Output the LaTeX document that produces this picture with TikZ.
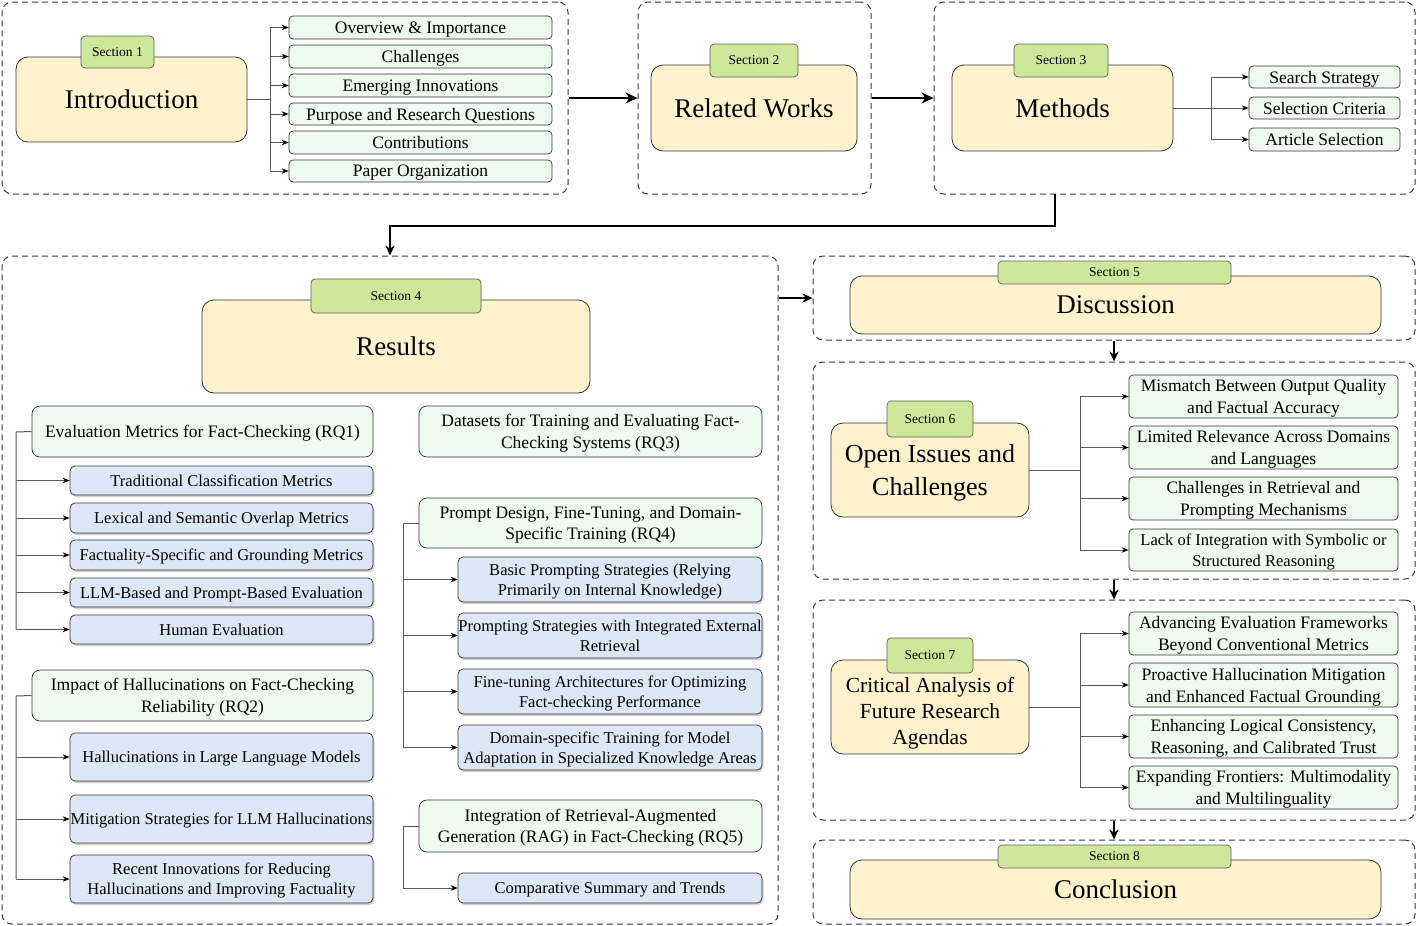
\documentclass[tikz,border=0pt]{standalone}
\usepackage{fontspec}
\setmainfont{Liberation Serif}
\usetikzlibrary{arrows.meta,shadows,calc}
\definecolor{tagG}{HTML}{CDE89B}
\definecolor{yel}{HTML}{FFF2CC}
\definecolor{mint}{HTML}{EEF9F0}
\definecolor{blu}{HTML}{DCE8F6}
\definecolor{edgec}{HTML}{333333}
\definecolor{dashc}{HTML}{3A3A3A}
\newcommand\bx[7]{\node[#1, minimum width={#5-#3}, minimum height={#6-#4}] (#2) at ({(#3+#5)/2},{(#4+#6)/2}) {#7};}
\tikzset{
  grp/.style={draw=dashc, dash pattern=on 6pt off 4pt, rounded corners=10pt, line width=1pt, inner sep=0pt},
  mainbox/.style={draw=edgec, fill=yel, rounded corners=12pt, line width=0.8pt, inner sep=0pt, align=center, text depth=0pt, font=\fontsize{27}{33}\selectfont},
  tagbox/.style={draw=edgec!80, fill=tagG, rounded corners=4pt, line width=0.7pt, inner sep=0pt, text depth=0pt, font=\fontsize{13.5}{16}\selectfont},
  itembox/.style={draw=edgec, fill=mint, rounded corners=4pt, line width=0.7pt, inner sep=0pt, align=center, text depth=0pt, font=\fontsize{17.5}{22}\selectfont},
  rqbox/.style={draw=edgec, fill=mint, rounded corners=8pt, line width=0.7pt, inner sep=0pt, align=center, text depth=0pt, font=\fontsize{17.5}{21.5}\selectfont},
  subbox/.style={draw=edgec, fill=blu, rounded corners=5pt, line width=0.7pt, inner sep=0pt, align=center, text depth=0pt, font=\fontsize{16.5}{20}\selectfont,
    drop shadow={shadow xshift=1.5pt, shadow yshift=-2pt, fill=black!35, opacity=0.5}},
  ln/.style={draw=black!65, line width=1pt},
  arr/.style={draw=black!65, line width=1pt, -{Stealth[length=7pt,width=5.5pt,black]}},
  bigarr/.style={draw=black, line width=2.6pt, -{Stealth[length=12pt,width=11pt]}},
  midarr/.style={draw=black, line width=1.8pt, -{Stealth[length=10pt,width=9pt]}},
}
\begin{document}
\begin{tikzpicture}[x=1pt,y=-1pt]
\useasboundingbox (0,0) rectangle (1417,926);
% groups
\bx{grp}{g1}{2}{2}{568}{194}{}
\bx{grp}{g2}{638}{2}{871}{194}{}
\bx{grp}{g3}{934}{2}{1415}{194}{}
\bx{grp}{g4}{2}{256}{778}{924}{}
\bx{grp}{g5}{813}{256}{1415}{340}{}
\bx{grp}{g6}{813}{362}{1415}{579}{}
\bx{grp}{g7}{813}{600}{1415}{820}{}
\bx{grp}{g8}{813}{840}{1415}{924}{}
% main boxes
\bx{mainbox}{intro}{16}{57}{247}{142}{Introduction}
\bx{mainbox}{rel}{651}{65}{857}{151}{Related Works}
\bx{mainbox}{meth}{952}{65}{1173}{151}{Methods}
\bx{mainbox}{res}{202}{300}{590}{393}{Results}
\bx{mainbox}{disc}{850}{276}{1381}{334}{Discussion}
\bx{mainbox,font=\fontsize{26}{33}\selectfont}{open}{831}{423}{1029}{517}{Open Issues and\\Challenges}
\bx{mainbox,font=\fontsize{21.5}{26}\selectfont,text depth={}}{crit}{831}{660}{1029}{754}{\raisebox{-6pt}[\height][\depth]{\begin{tabular}{@{}c@{}}Critical Analysis of\\Future Research\\Agendas\end{tabular}}}
\bx{mainbox}{conc}{850}{860}{1381}{919}{Conclusion}
% tags
\bx{tagbox}{t1}{81}{36}{154}{68}{Section 1}
\bx{tagbox}{t2}{710}{44}{798}{77}{Section 2}
\bx{tagbox}{t3}{1014}{44}{1108}{77}{Section 3}
\bx{tagbox}{t4}{311}{279}{481}{313}{Section 4}
\bx{tagbox}{t5}{998}{261}{1231}{284}{Section 5}
\bx{tagbox}{t6}{887}{401}{973}{437}{Section 6}
\bx{tagbox}{t7}{887}{638}{973}{673}{Section 7}
\bx{tagbox}{t8}{998}{845}{1231}{868}{Section 8}
% section 1 items
\bx{itembox}{a1}{289}{16}{552}{39}{Overview \& Importance}
\bx{itembox}{a2}{289}{45}{552}{68}{Challenges}
\bx{itembox}{a3}{289}{74}{552}{97}{Emerging Innovations}
\bx{itembox}{a4}{289}{103}{552}{125}{Purpose and Research Questions}
\bx{itembox}{a5}{289}{131}{552}{154}{Contributions}
\bx{itembox}{a6}{289}{160}{552}{182}{Paper Organization}
% section 3 items
\bx{itembox}{m1}{1249}{66}{1400}{88}{Search Strategy}
\bx{itembox}{m2}{1249}{97}{1400}{119}{Selection Criteria}
\bx{itembox}{m3}{1249}{128}{1400}{151}{Article Selection}
% results
\bx{rqbox}{q1}{32}{406}{373}{457}{Evaluation Metrics for Fact-Checking (RQ1)}
\bx{subbox}{q11}{70}{466}{373}{495}{Traditional Classification Metrics}
\bx{subbox}{q12}{70}{503}{373}{533}{Lexical and Semantic Overlap Metrics}
\bx{subbox}{q13}{70}{540}{373}{570}{Factuality-Specific and Grounding Metrics}
\bx{subbox}{q14}{70}{578}{373}{607}{LLM-Based and Prompt-Based Evaluation}
\bx{subbox}{q15}{70}{615}{373}{644}{Human Evaluation}
\bx{rqbox}{q2}{32}{670}{373}{721}{Impact of Hallucinations on Fact-Checking\\Reliability (RQ2)}
\bx{subbox}{q21}{70}{733}{373}{781}{Hallucinations in Large Language Models}
\bx{subbox}{q22}{70}{795}{373}{843}{Mitigation Strategies for LLM Hallucinations}
\bx{subbox}{q23}{70}{855}{373}{903}{Recent Innovations for Reducing\\Hallucinations and Improving Factuality}
\bx{rqbox}{q3}{419}{406}{762}{457}{Datasets for Training and Evaluating Fact-\\Checking Systems (RQ3)}
\bx{rqbox}{q4}{419}{498}{762}{548}{Prompt Design, Fine-Tuning, and Domain-\\Specific Training (RQ4)}
\bx{subbox}{q41}{458}{557}{762}{602}{Basic Prompting Strategies (Relying\\Primarily on Internal Knowledge)}
\bx{subbox}{q42}{458}{613}{762}{658}{Prompting Strategies with Integrated External\\Retrieval}
\bx{subbox}{q43}{458}{669}{762}{714}{Fine-tuning Architectures for Optimizing\\Fact-checking Performance}
\bx{subbox}{q44}{458}{725}{762}{770}{Domain-specific Training for Model\\Adaptation in Specialized Knowledge Areas}
\bx{rqbox}{q5}{419}{800}{762}{852}{Integration of Retrieval-Augmented\\Generation (RAG) in Fact-Checking (RQ5)}
\bx{subbox}{q51}{458}{873}{762}{903}{Comparative Summary and Trends}
% section 6 items
\bx{itembox}{o1}{1129}{375}{1398}{418}{Mismatch Between Output Quality\\and Factual Accuracy}
\bx{itembox}{o2}{1129}{426}{1398}{469}{Limited Relevance Across Domains\\and Languages}
\bx{itembox}{o3}{1129}{477}{1398}{520}{Challenges in Retrieval and\\Prompting Mechanisms}
\bx{itembox,font=\fontsize{16.5}{21}\selectfont}{o4}{1129}{529}{1398}{571}{Lack of Integration with Symbolic or\\Structured Reasoning}
% section 7 items
\bx{itembox}{c1}{1129}{612}{1398}{655}{Advancing Evaluation Frameworks\\Beyond Conventional Metrics}
\bx{itembox}{c2}{1129}{663}{1398}{707}{Proactive Hallucination Mitigation\\and Enhanced Factual Grounding}
\bx{itembox}{c3}{1129}{715}{1398}{758}{Enhancing Logical Consistency,\\Reasoning, and Calibrated Trust}
\bx{itembox}{c4}{1129}{766}{1398}{809}{Expanding Frontiers: Multimodality\\and Multilinguality}
% bar coordinates
\coordinate (b1) at (270,99);
\coordinate (b3) at (1211,108);
\coordinate (bq1) at (16,432);
\coordinate (bq2) at (16,696);
\coordinate (bq4) at (403,523);
\coordinate (bq5) at (403,826);
\coordinate (b6) at (1080,470);
\coordinate (b7) at (1080,707);
% section 1 connectors
\draw[ln] (intro.east |- b1) -- (b1);
\draw[ln] (b1 |- a1.west) -- (b1 |- a6.west);
\foreach \n in {a1,a2,a3,a4,a5,a6} \draw[arr] (b1 |- \n.west) -- (\n.west);
% section 3 connectors
\draw[ln] (meth.east |- b3) -- (b3);
\draw[ln] (b3 |- m1.west) -- (b3 |- m3.west);
\foreach \n in {m1,m2,m3} \draw[arr] (b3 |- \n.west) -- (\n.west);
% RQ1
\draw[ln] (q1.west) -- (bq1) -- (bq1 |- q15.west);
\foreach \n in {q11,q12,q13,q14,q15} \draw[arr] (bq1 |- \n.west) -- (\n.west);
% RQ2
\draw[ln] (q2.west) -- (bq2) -- (bq2 |- q23.west);
\foreach \n in {q21,q22,q23} \draw[arr] (bq2 |- \n.west) -- (\n.west);
% RQ4
\draw[ln] (q4.west) -- (bq4) -- (bq4 |- q44.west);
\foreach \n in {q41,q42,q43,q44} \draw[arr] (bq4 |- \n.west) -- (\n.west);
% RQ5
\draw[ln] (q5.west) -- (bq5) -- (bq5 |- q51.west);
\draw[arr] (bq5 |- q51.west) -- (q51.west);
% section 6
\draw[ln] (open.east |- b6) -- (b6);
\draw[ln] (b6 |- o1.west) -- (b6 |- o4.west);
\foreach \n in {o1,o2,o3,o4} \draw[arr] (b6 |- \n.west) -- (\n.west);
% section 7
\draw[ln] (crit.east |- b7) -- (b7);
\draw[ln] (b7 |- c1.west) -- (b7 |- c4.west);
\foreach \n in {c1,c2,c3,c4} \draw[arr] (b7 |- \n.west) -- (\n.west);
% main flow
\coordinate (c34) at (1055,194);
\draw[bigarr] (g1.east) -- (g2.west);
\draw[bigarr] (g2.east) -- (g3.west);
\draw[midarr] (c34) -- (1055,226) -| (g4.north);
\draw[midarr] (g4.east |- g5.west) -- (g5.west);
\draw[midarr] (g5.south) -- (g6.north);
\draw[midarr] (g6.south) -- (g7.north);
\draw[midarr] (g7.south) -- (g8.north);
\end{tikzpicture}
\end{document}
